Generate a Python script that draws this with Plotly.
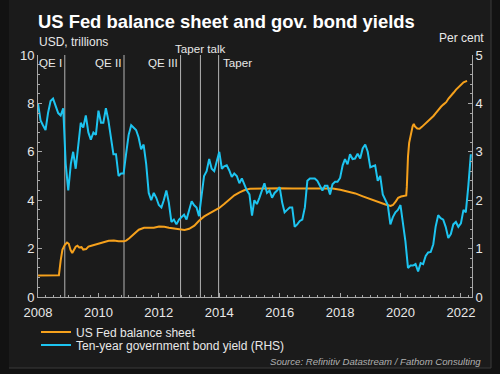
import plotly.graph_objects as go

# ---------------- data ----------------
fed_dates = [
    "2008-01-02", "2008-09-10", "2008-10-01", "2008-10-22", "2008-11-19", "2008-12-17",
    "2009-01-07", "2009-01-28", "2009-02-18", "2009-03-11", "2009-04-01", "2009-04-22",
    "2009-05-13", "2009-06-10", "2009-07-01", "2009-08-05", "2009-09-02", "2009-10-07",
    "2009-11-04", "2009-12-02", "2010-01-06", "2010-03-03", "2010-05-05", "2010-07-07",
    "2010-09-01", "2010-11-03", "2010-12-01", "2011-01-05", "2011-03-02", "2011-05-04",
    "2011-07-06", "2011-09-07", "2011-11-02", "2012-01-04", "2012-03-07", "2012-05-02",
    "2012-07-04", "2012-09-05", "2012-11-07", "2013-01-02", "2013-03-06", "2013-05-01",
    "2013-07-03", "2013-09-04", "2013-11-06", "2014-01-01", "2014-03-05", "2014-05-07",
    "2014-07-02", "2014-09-03", "2014-11-05", "2015-01-07", "2015-06-03", "2016-01-06",
    "2016-06-01", "2017-01-04", "2017-06-07", "2017-10-04", "2018-01-03", "2018-04-04",
    "2018-07-04", "2018-10-03", "2019-01-02", "2019-04-03", "2019-07-03", "2019-09-04",
    "2019-10-02", "2019-11-06", "2019-12-04", "2020-01-08", "2020-02-19", "2020-03-11",
    "2020-03-18", "2020-03-25", "2020-04-01", "2020-04-15", "2020-05-06", "2020-05-27",
    "2020-06-10", "2020-06-24", "2020-07-22", "2020-08-19", "2020-09-16", "2020-10-14",
    "2020-11-11", "2020-12-09", "2021-01-06", "2021-02-03", "2021-03-03", "2021-04-07",
    "2021-05-05", "2021-06-02", "2021-07-07", "2021-08-04", "2021-09-01", "2021-10-06",
    "2021-11-03", "2021-12-01", "2022-01-05", "2022-02-02", "2022-03-16",
]
fed_values = [
    0.89, 0.90, 1.50, 1.95, 2.15, 2.25,
    2.20, 1.95, 1.82, 1.95, 2.08, 2.12,
    2.05, 2.06, 1.96, 1.98, 2.08, 2.12,
    2.15, 2.18, 2.22, 2.26, 2.32, 2.33,
    2.30, 2.30, 2.33, 2.42, 2.60, 2.78,
    2.86, 2.85, 2.86, 2.91, 2.90, 2.86,
    2.84, 2.80, 2.77, 2.82, 2.95, 3.15,
    3.33, 3.46, 3.58, 3.68, 3.85, 4.05,
    4.20, 4.32, 4.42, 4.47, 4.49, 4.49,
    4.48, 4.49, 4.49, 4.48, 4.43, 4.37,
    4.28, 4.16, 4.04, 3.92, 3.82, 3.76,
    3.80, 3.95, 4.10, 4.15, 4.17, 4.20,
    4.55, 5.30, 5.80, 6.37, 6.80, 7.05,
    7.15, 7.05, 6.96, 6.95, 7.03, 7.12,
    7.18, 7.28, 7.40, 7.48, 7.60, 7.76,
    7.86, 7.95, 8.05, 8.20, 8.33, 8.45,
    8.57, 8.67, 8.78, 8.87, 8.93,
]

# Ten-year yield, month-start readings Jan 2008 .. May 2022
yield_values = [
    4.00, 3.65, 3.55, 3.45, 3.80, 4.05, 4.10, 3.95, 3.80, 3.75, 3.90, 2.75,  # 2008
    2.20, 2.75, 3.00, 2.65, 3.15, 3.60, 3.50, 3.75, 3.40, 3.25, 3.40, 3.35,  # 2009
    3.85, 3.60, 3.60, 3.90, 3.65, 3.30, 2.95, 2.95, 2.50, 2.55, 2.55, 2.95,  # 2010
    3.35, 3.55, 3.50, 3.45, 3.30, 3.05, 3.15, 2.75, 2.15, 2.00, 2.15, 2.05,  # 2011
    1.90, 1.85, 2.00, 2.20, 1.95, 1.55, 1.60, 1.50, 1.60, 1.65, 1.70, 1.60,  # 2012
    1.78, 1.98, 1.90, 1.85, 1.67, 2.15, 2.50, 2.60, 2.85, 2.65, 2.60, 2.80,  # 2013
    3.00, 2.65, 2.70, 2.72, 2.62, 2.48, 2.55, 2.50, 2.35, 2.45, 2.30, 2.20,  # 2014
    2.12, 1.68, 2.00, 1.92, 2.05, 2.20, 2.35, 2.15, 2.20, 2.05, 2.15, 2.20,  # 2015
    2.27, 1.95, 1.75, 1.80, 1.85, 1.85, 1.45, 1.50, 1.57, 1.60, 1.85, 2.40,  # 2016
    2.45, 2.45, 2.45, 2.40, 2.30, 2.20, 2.30, 2.30, 2.12, 2.33, 2.38, 2.38,  # 2017
    2.46, 2.72, 2.85, 2.74, 2.95, 2.85, 2.86, 2.96, 2.86, 3.07, 3.15, 3.00,  # 2018
    2.68, 2.70, 2.72, 2.40, 2.50, 2.12, 2.00, 1.90, 1.50, 1.65, 1.75, 1.80,  # 2019
    1.90, 1.55, 1.15, 0.60, 0.65, 0.65, 0.68, 0.53, 0.70, 0.68, 0.85, 0.92,  # 2020
    0.93, 1.09, 1.45, 1.69, 1.63, 1.60, 1.45, 1.22, 1.30, 1.50, 1.55, 1.45,  # 2021
    1.52, 1.80, 1.75, 2.30, 2.95,                                            # 2022
]
yield_dates = [f"{2008 + i // 12}-{i % 12 + 1:02d}-01" for i in range(len(yield_values))]

event_dates = ["2008-11-20", "2010-11-06", "2012-09-20", "2013-05-18", "2013-12-24"]
event_labels = ["QE I", "QE II", "QE III", "Taper talk", "Taper"]

# ---------------- style ----------------
FONT = "Liberation Sans, Arial, sans-serif"
ORANGE = "#F6A11C"
CYAN = "#1DC4F0"
AXIS = "#a8a8a8"
TEXT = "#e8e8e8"

fig = go.Figure()
fig.add_trace(go.Scatter(x=fed_dates, y=fed_values, mode="lines", name="US Fed balance sheet",
                         line=dict(color=ORANGE, width=2), legend="legend", yaxis="y"))
fig.add_trace(go.Scatter(x=yield_dates, y=yield_values, mode="lines",
                         name="Ten-year government bond yield (RHS)",
                         line=dict(color=CYAN, width=2), legend="legend2", yaxis="y2"))

# plot area in pixels: x 38..472, y 55..297
L, R, T, B = 38, 28, 55, 77
W, H = 500, 374
pw, ph = W - L - R, H - T - B


def px_x(p):
    return (p - L) / pw


def px_y(p):
    return (H - B - p) / ph


shapes = [
    dict(type="rect", xref="paper", yref="paper", x0=px_x(-5), x1=px_x(491), y0=px_y(368), y1=px_y(-5),
         fillcolor="#1b1b1b", line=dict(width=0), layer="below"),
    dict(type="line", xref="paper", yref="paper", x0=px_x(491), x1=px_x(491), y0=px_y(368), y1=px_y(-5),
         line=dict(color="#3a3a3a", width=1), layer="below"),
    dict(type="line", xref="paper", yref="paper", x0=px_x(9), x1=px_x(491), y0=px_y(368), y1=px_y(368),
         line=dict(color="#3a3a3a", width=1), layer="below"),
    dict(type="rect", xref="paper", yref="paper", x0=px_x(-5), x1=px_x(9), y0=px_y(380), y1=px_y(-5),
         fillcolor="#121212", line=dict(width=0), layer="below"),
]
for d in event_dates:
    shapes.append(dict(type="line", xref="x", yref="paper", x0=d, x1=d, y0=0, y1=1,
                       line=dict(color="#b4b4b4", width=1), layer="below"))

annotations = [
    dict(text="<b>US Fed balance sheet and gov. bond yields</b>", xref="paper", yref="paper",
         x=px_x(36), y=px_y(21), xanchor="left", yanchor="middle", showarrow=False,
         font=dict(family=FONT, size=18.4, color="#ffffff")),
    dict(text="USD, trillions", xref="paper", yref="paper", x=px_x(37), y=px_y(42),
         xanchor="left", yanchor="middle", showarrow=False, font=dict(family=FONT, size=12, color=TEXT)),
    dict(text="Per cent", xref="paper", yref="paper", x=px_x(486), y=px_y(38),
         xanchor="right", yanchor="middle", showarrow=False, font=dict(family=FONT, size=12, color=TEXT)),
    dict(text="Source: Refinitiv Datastream / Fathom Consulting", xref="paper", yref="paper",
         x=px_x(483), y=px_y(361), xanchor="right", yanchor="middle", showarrow=False,
         font=dict(family=FONT, size=9.6, color="#b0b0b0", style="italic")),
]
for d, lab in zip(event_dates, event_labels):
    if lab == "Taper talk":
        annotations.append(dict(text=lab, x=d, xref="x", yref="paper", y=px_y(48), xanchor="center",
                                yanchor="middle", showarrow=False, font=dict(family=FONT, size=11.6, color=TEXT)))
    elif lab == "Taper":
        annotations.append(dict(text=lab, x=d, xref="x", yref="paper", y=px_y(62), xanchor="left",
                                yanchor="middle", showarrow=False, xshift=2,
                                font=dict(family=FONT, size=11.6, color=TEXT)))
    else:
        annotations.append(dict(text=lab, x=d, xref="x", yref="paper", y=px_y(62), xanchor="right",
                                yanchor="middle", showarrow=False, xshift=-1,
                                font=dict(family=FONT, size=11.6, color=TEXT)))

tickfont = dict(family=FONT, size=13, color=TEXT)
fig.update_layout(
    width=W, height=H, autosize=False,
    margin=dict(l=L, r=R, t=T, b=B, pad=0, autoexpand=False),
    paper_bgcolor="#121212", plot_bgcolor="rgba(0,0,0,0)",
    font=dict(family=FONT, color=TEXT),
    shapes=shapes, annotations=annotations,
    xaxis=dict(type="date", range=["2008-01-01", "2022-05-15"], dtick="M24", tick0="2008-01-01",
               tickformat="%Y", ticks="inside", ticklen=4, tickcolor=AXIS, showline=True, linecolor=AXIS,
               linewidth=1, showgrid=False, zeroline=False, tickfont=tickfont, automargin=False,
               ticklabelstandoff=3,
               minor=dict(ticks="inside", dtick="M3", ticklen=2, tickcolor=AXIS, showgrid=False)),
    yaxis=dict(range=[0, 10], dtick=2, ticks="inside", ticklen=4, tickcolor=AXIS, showline=True,
               linecolor=AXIS, linewidth=1, showgrid=False, zeroline=False, tickfont=tickfont,
               automargin=False,
               minor=dict(ticks="inside", dtick=0.4, ticklen=2, tickcolor=AXIS, showgrid=False)),
    yaxis2=dict(range=[0, 5], dtick=1, overlaying="y", side="right", ticks="inside", ticklen=4,
                tickcolor=AXIS, showline=True, linecolor=AXIS, linewidth=1, showgrid=False,
                zeroline=False, tickfont=tickfont, automargin=False,
                minor=dict(ticks="inside", dtick=0.2, ticklen=2, tickcolor=AXIS, showgrid=False)),
    showlegend=True,
    legend=dict(x=px_x(36), y=px_y(332), xanchor="left", yanchor="middle", bgcolor="rgba(0,0,0,0)",
                font=dict(family=FONT, size=12, color=TEXT), itemwidth=30),
    legend2=dict(x=px_x(36), y=px_y(345), xanchor="left", yanchor="middle", bgcolor="rgba(0,0,0,0)",
                 font=dict(family=FONT, size=12, color=TEXT), itemwidth=30),
)

fig.write_html("out.html", config={"displayModeBar": False},
               post_script="document.body.style.margin='0';document.body.style.overflow='hidden';")
